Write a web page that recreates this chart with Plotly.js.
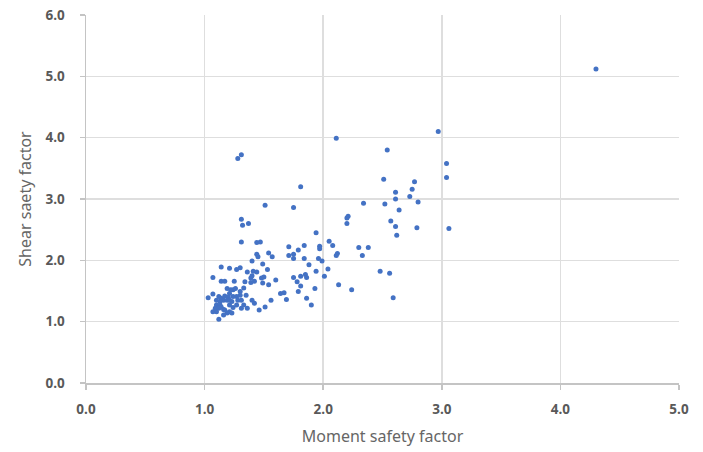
<!DOCTYPE html>
<html>
<head>
<meta charset="utf-8">
<script src="https://cdn.plot.ly/plotly-3.0.1.min.js"></script>
<style>html,body{margin:0;padding:0;background:#fff;}#chart{width:703px;height:452px;}</style>
</head>
<body>
<div id="chart"></div>
<script>
const momentSF = [
  4.30, 2.97, 2.11, 2.54, 3.04, 3.04, 2.51, 2.77, 2.75, 2.61,
  1.81, 1.75, 2.61, 2.73, 2.80, 2.34, 2.52, 2.64, 2.21, 2.20,
  2.20, 2.57, 2.61, 2.79, 3.06, 2.62, 1.51, 1.31, 1.32, 1.37,
  1.31, 1.28, 1.31, 1.94, 2.05, 2.08, 2.30, 2.38, 2.33, 2.12,
  2.11, 1.97, 1.97, 1.96, 1.99, 2.04, 2.01, 2.13, 2.24, 2.48,
  2.56, 2.59, 1.88, 1.94, 1.84, 1.71, 1.79, 1.71, 1.75, 1.75,
  1.84, 1.75, 1.81, 1.85, 1.86, 1.78, 1.81, 1.79, 1.93, 1.86,
  1.90, 1.64, 1.67, 1.69, 1.44, 1.47, 1.44, 1.45, 1.54, 1.57,
  1.40, 1.49, 1.14, 1.21, 1.27, 1.30, 1.07, 1.14, 1.17, 1.25,
  1.36, 1.41, 1.44, 1.53, 1.39, 1.40, 1.42, 1.48, 1.50, 1.49,
  1.60, 1.34, 1.39, 1.54, 1.56, 1.51, 1.46, 1.40, 1.42, 1.36,
  1.31, 1.33, 1.26, 1.24, 1.19, 1.22, 1.30, 1.27, 1.30, 1.28,
  1.31, 1.21, 1.24, 1.33, 1.35, 1.03, 1.07, 1.12, 1.14, 1.16,
  1.17, 1.20, 1.19, 1.10, 1.13, 1.10, 1.13, 1.09, 1.12, 1.14,
  1.16, 1.07, 1.10, 1.21, 1.23, 1.21, 1.21, 1.19, 1.23, 1.12,
  1.17, 1.16, 1.27, 1.24
];
const shearSF = [
  5.12, 4.10, 3.99, 3.80, 3.58, 3.35, 3.32, 3.28, 3.16, 3.11,
  3.20, 2.86, 3.00, 3.04, 2.95, 2.93, 2.92, 2.82, 2.72, 2.69,
  2.60, 2.64, 2.55, 2.53, 2.52, 2.41, 2.90, 2.67, 2.57, 2.60,
  2.30, 3.66, 3.72, 2.45, 2.31, 2.24, 2.21, 2.21, 2.08, 2.11,
  2.08, 2.23, 2.19, 2.03, 1.99, 1.86, 1.74, 1.60, 1.52, 1.82,
  1.79, 1.39, 1.93, 1.82, 2.24, 2.22, 2.17, 2.08, 2.10, 2.03,
  2.03, 1.72, 1.74, 1.77, 1.72, 1.65, 1.58, 1.49, 1.54, 1.38,
  1.27, 1.46, 1.47, 1.36, 2.29, 2.30, 2.10, 2.06, 2.12, 2.06,
  1.99, 1.94, 1.89, 1.87, 1.85, 1.88, 1.72, 1.66, 1.66, 1.66,
  1.81, 1.82, 1.81, 1.85, 1.71, 1.75, 1.66, 1.71, 1.73, 1.63,
  1.68, 1.65, 1.64, 1.60, 1.35, 1.24, 1.19, 1.35, 1.30, 1.22,
  1.22, 1.27, 1.54, 1.52, 1.54, 1.52, 1.49, 1.41, 1.43, 1.35,
  1.35, 1.46, 1.41, 1.55, 1.43, 1.39, 1.45, 1.41, 1.38, 1.35,
  1.42, 1.40, 1.35, 1.35, 1.33, 1.27, 1.27, 1.22, 1.22, 1.24,
  1.20, 1.16, 1.16, 1.27, 1.33, 1.35, 1.16, 1.14, 1.14, 1.04,
  1.19, 1.11, 1.27, 1.23
];
const xTickVals = [0, 1, 2, 3, 4, 5];
const yTickVals = [0, 1, 2, 3, 4, 5, 6];
const xTitle = "Moment safety factor";
const yTitle = "Shear saety factor";

const tickFont = {family: "Open Sans, Noto Sans, sans-serif", size: 13.5, color: "#595959", weight: 700};
const titleFont = {family: "Noto Sans, Open Sans, sans-serif", size: 16, color: "#666666"};

const trace = {
  x: momentSF, y: shearSF,
  type: "scatter", mode: "markers",
  marker: {color: "#4472C4", size: 5, line: {width: 0}},
  hoverinfo: "x+y"
};

const axisCommon = {
  showgrid: true, gridcolor: "#dedede", gridwidth: 1.5,
  showline: true, linecolor: "#c4c4c4", linewidth: 1.5,
  ticks: "outside", ticklen: 5, tickcolor: "#c4c4c4", tickwidth: 1.5,
  tickformat: ".1f", zeroline: false, tickfont: tickFont, fixedrange: true
};

const layout = {
  width: 703, height: 452,
  margin: {l: 86, r: 24, t: 15, b: 69},
  paper_bgcolor: "#ffffff", plot_bgcolor: "#ffffff",
  showlegend: false,
  xaxis: Object.assign({}, axisCommon, {
    range: [0, 5], tickvals: xTickVals, ticklabelstandoff: 8,
    title: {text: xTitle, font: titleFont, standoff: 14}
  }),
  yaxis: Object.assign({}, axisCommon, {
    range: [0, 6], tickvals: yTickVals, ticklabelstandoff: 12,
    title: {text: yTitle, font: titleFont, standoff: 10}
  })
};

Plotly.newPlot("chart", [trace], layout, {displayModeBar: false, staticPlot: true});
</script>
</body>
</html>
